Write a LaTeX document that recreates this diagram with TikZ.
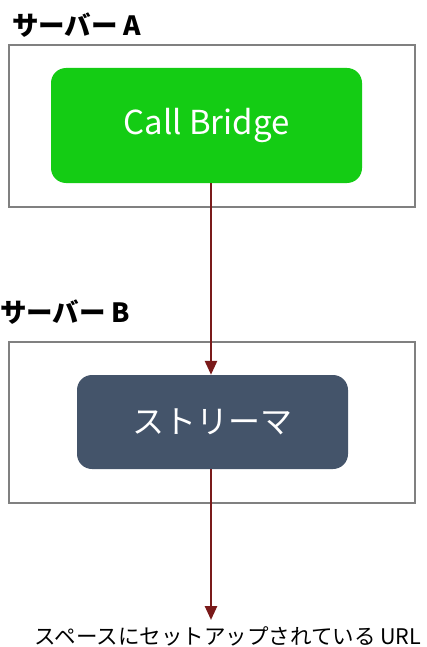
\documentclass[tikz,border=0pt]{standalone}
\usepackage{fontspec}
\setmainfont{Noto Sans CJK JP}
\newfontfamily\cjk{Noto Sans CJK JP}
\usetikzlibrary{arrows.meta}
\definecolor{boxgray}{HTML}{808080}
\definecolor{cbgreen}{HTML}{14CC14}
\definecolor{strslate}{HTML}{44546A}
\definecolor{arrred}{HTML}{7A1A1A}
\tikzset{
  server/.style={draw=boxgray, line width=2.5pt, fill=white},
  proc/.style={rounded corners=15pt, inner sep=0pt, text=white, font=\cjk},
  title/.style={font=\cjk\bfseries\fontsize{26.5}{30}\selectfont, anchor=west, inner sep=0pt},
  flow/.style={draw=arrred, line width=2.6pt, -{Triangle[width=12pt,length=14pt]}}
}
\begin{document}
\begin{tikzpicture}[x=1pt,y=-1pt]
\useasboundingbox (0,0) rectangle (426,647);
\fill[white] (0,0) rectangle (426,647);
\node[title] (ta) at (12,25) {サーバー A};
\node[title] (tb) at (0,312) {サーバー B};
\draw[server] (9,45) rectangle (415,207);
\draw[server] (9,342) rectangle (415,503);
\node[proc, fill=cbgreen, minimum width=311pt, minimum height=115pt, font=\cjk\fontsize{33}{36}\selectfont] (cb) at (206.5,125.5) {Call Bridge};
\node[proc, fill=strslate, minimum width=271pt, minimum height=94pt, font=\cjk\fontsize{32}{36}\selectfont] (st) at (212.5,422) {ストリーマ};
\coordinate (end) at (211,620);
\node[font=\cjk\fontsize{21.5}{24}\selectfont, inner sep=0pt] (url) at (228,636) {スペースにセットアップされている URL};
\draw[flow] (cb.south -| end) -- (st.north -| end);
\draw[flow] (st.south -| end) -- (end);
\end{tikzpicture}
\end{document}
